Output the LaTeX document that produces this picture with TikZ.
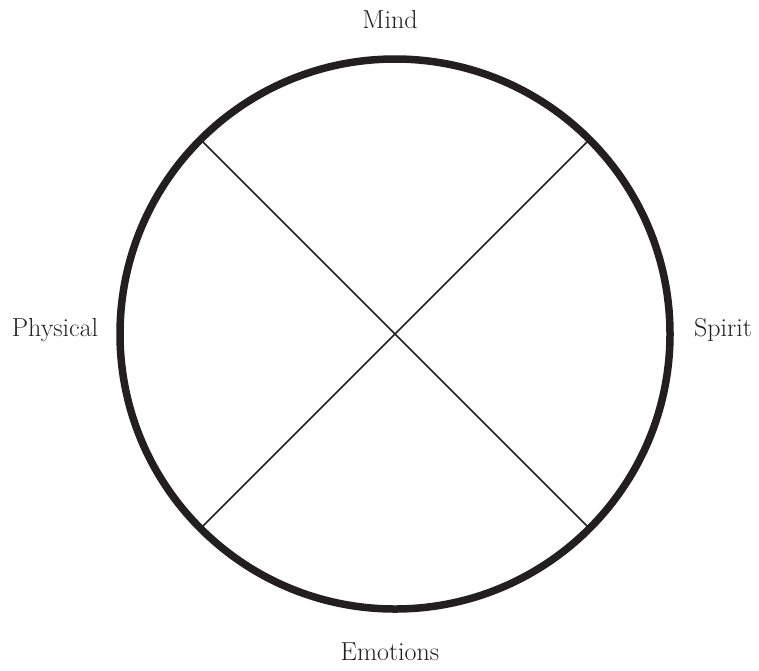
\documentclass[tikz,border=0pt]{standalone}
\usepackage{tikz}
\usetikzlibrary{positioning}
\definecolor{inkdark}{HTML}{231F20}

\begin{document}
\begin{tikzpicture}[x=1pt, y=-1pt,
    label text/.style={font=\fontsize{26}{30}\selectfont, text=inkdark, inner sep=0pt},
    rim/.style={circle, draw=inkdark, line width=7.5pt, minimum size=550pt, inner sep=0pt, outer sep=0pt}]

\useasboundingbox (0,0) rectangle (759,670);

% Cercle

\node[rim] (wheel) at (395,334) {};


% Diagonals

\draw[
    line width=1.6pt,
    inkdark
] (wheel.135) -- (wheel.-45);

\draw[
    line width=1.6pt,
    inkdark
] (wheel.45) -- (wheel.-135);


% Etiquetes

\node[label text] (mind) at (390,20) {Mind};
\node[label text] (emotions) at (390,652) {Emotions};
\node[label text] (physical) at (55,330) {Physical};
\node[label text] (spirit) at (723,330) {Spirit};

\end{tikzpicture}
\end{document}
